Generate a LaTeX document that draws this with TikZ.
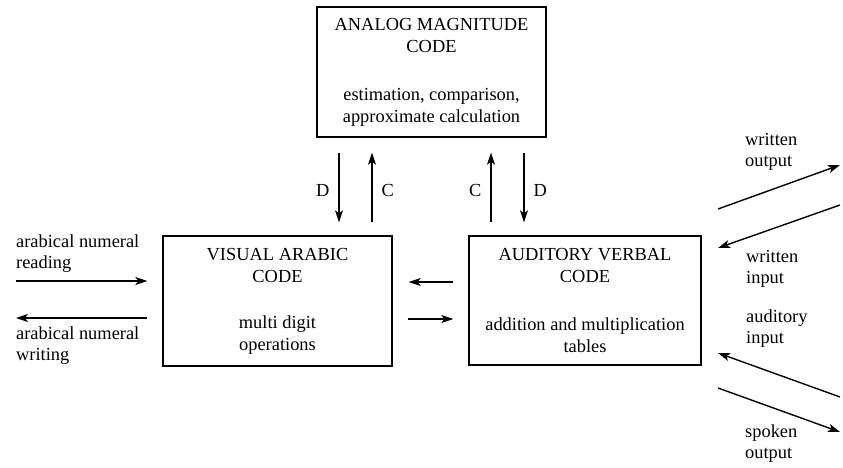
\documentclass[tikz,border=0pt]{standalone}
\usepackage{fontspec}
\setmainfont{Liberation Serif}
\usetikzlibrary{arrows.meta}
\begin{document}
\begin{tikzpicture}[x=1pt,y=-1pt,
  box/.style={draw,line width=1.3pt,align=center,inner sep=0pt,
    font=\fontsize{18.4}{22}\selectfont},
  lbl/.style={align=left,inner sep=0pt,anchor=west,
    font=\fontsize{18.4}{21}\selectfont},
  arr/.style={line width=1.4pt,-{Stealth[length=12pt,width=8pt,inset=3pt]}},
  tag/.style={inner sep=0pt,font=\fontsize{18.4}{22}\selectfont}]
\useasboundingbox (0,0) rectangle (843,468);
% boxes
\node[box,minimum width=229pt,minimum height=130pt] (top) at (431.5,72)
  {ANALOG MAGNITUDE\\CODE\\[26pt]estimation, comparison,\\approximate calculation};
\node[box,minimum width=229pt,minimum height=130pt] (left) at (277.5,301)
  {VISUAL ARABIC\\CODE\\[24pt]multi digit\\operations};
\node[box,minimum width=232pt,minimum height=129pt] (right) at (585,300.5)
  {AUDITORY VERBAL\\CODE\\[26pt]addition and multiplication\\tables};
% helper coordinates
\coordinate (xD1) at (339,0);
\coordinate (xC1) at (372,0);
\coordinate (xC2) at (491,0);
\coordinate (xD2) at (524,0);
\coordinate (yU) at (0,282);
\coordinate (yL) at (0,319);
\coordinate (inA) at (16,281);
\coordinate (outA) at (16,318);
\coordinate (woL) at (718,209);
\coordinate (woR) at (840,165);
\coordinate (wiR) at (840,205);
\coordinate (wiL) at (718,248);
\coordinate (aiR) at (840,397);
\coordinate (aiL) at (718,353);
\coordinate (soL) at (718,388);
\coordinate (soR) at (840,432);
% vertical arrows
\draw[arr,shorten <=15pt,shorten >=13pt] (top.south -| xD1) -- (left.north -| xD1)
  node[tag,midway,left=9pt,yshift=-4pt]{D};
\draw[arr,shorten <=13pt,shorten >=15pt] (left.north -| xC1) -- (top.south -| xC1)
  node[tag,midway,right=9pt,yshift=-4pt]{C};
\draw[arr,shorten <=13pt,shorten >=15pt] (right.north -| xC2) -- (top.south -| xC2)
  node[tag,midway,left=9pt,yshift=-4pt]{C};
\draw[arr,shorten <=15pt,shorten >=13pt] (top.south -| xD2) -- (right.north -| xD2)
  node[tag,midway,right=9pt,yshift=-4pt]{D};
% horizontal arrows between boxes
\draw[arr,shorten <=15pt,shorten >=16pt] (right.west |- yU) -- (left.east |- yU);
\draw[arr,shorten <=15pt,shorten >=15pt] (left.east |- yL) -- (right.west |- yL);
% left arrows
\draw[arr,shorten >=15pt] (inA) -- (left.west |- inA);
\draw[arr,shorten <=15pt] (left.west |- outA) -- (outA);
% right diagonal arrows
\draw[arr] (woL) -- (woR);
\draw[arr] (wiR) -- (wiL);
\draw[arr] (aiR) -- (aiL);
\draw[arr] (soL) -- (soR);
% labels
\node[lbl] (lr) at (16,254) {arabical numeral\\reading};
\node[lbl] (lw) at (16,346) {arabical numeral\\writing};
\node[lbl] (rwo) at (745,152) {written\\output};
\node[lbl] (rwi) at (746,269) {written\\input};
\node[lbl] (rai) at (746,329) {auditory\\input};
\node[lbl] (rso) at (745,444) {spoken\\output};
\end{tikzpicture}
\end{document}
